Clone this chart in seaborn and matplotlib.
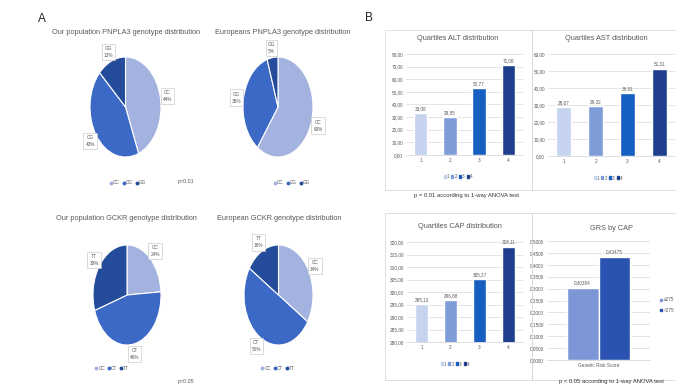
import matplotlib
matplotlib.use("Agg")
import matplotlib.pyplot as plt
import numpy as np
import pandas as pd
import seaborn as sns
from matplotlib.patches import Patch, Rectangle
from matplotlib.lines import Line2D
from matplotlib.ticker import FuncFormatter, MultipleLocator

# ---- data ----
pnpla3_genotypes = ["CC", "CG", "GG"]
pnpla3_ours = [44, 43, 13]
pnpla3_europe = [60, 35, 5]
gckr_genotypes = ["CC", "CT", "TT"]
gckr_ours = [24, 46, 30]
gckr_europe = [34, 50, 16]

quartiles = ["1", "2", "3", "4"]
alt_means = [33.08, 29.85, 52.77, 71.08]
ast_means = [28.67, 29.32, 36.91, 51.31]
cap_means = [295.13, 296.88, 305.27, 318.11]
grs_groups = ["≤275", ">275"]
grs_means = [0.30364, 0.43475]

# ---- style ----
sns.set_theme(style="white")
plt.rcParams["font.family"] = ["Liberation Sans Narrow", "Liberation Sans", "DejaVu Sans"]

W, H = 676, 384
fig = plt.figure(figsize=(W / 100, H / 100), dpi=100)
fig.patch.set_facecolor("white")

GRAY = "#595959"
GRID = "#d9d9d9"
pie_colors = ["#a3b2de", "#3c68c6", "#244c9b"]
quartile_colors = ["#c6d3ee", "#7e9dd8", "#165ec0", "#1f3f8e"]
grs_colors = ["#7d97d6", "#2a52b1"]


def px_rect(x0, y0, x1, y1):
    return [x0 / W, 1 - y1 / H, (x1 - x0) / W, (y1 - y0) / H]


def fxy(x, y):
    return x / W, 1 - y / H


def comma(v, nd):
    return f"{v:.{nd}f}".replace(".", ",")


def draw_pie(box, values, genotypes, title, title_xy, legend_xy):
    ax = fig.add_axes(px_rect(*box))
    labels = [f"{g}\n{v}%" for g, v in zip(genotypes, values)]
    ax.pie(values, labels=labels, colors=pie_colors, startangle=90,
           counterclock=False, labeldistance=1.2,
           wedgeprops=dict(edgecolor="white", linewidth=0.8),
           textprops=dict(fontsize=3.4, color=GRAY, ha="center", va="center",
                          linespacing=1.5,
                          bbox=dict(boxstyle="square,pad=0.45", fc="white",
                                    ec="#bfbfbf", lw=0.4)))
    ax.set_aspect("auto")
    ax.set_xlim(-1, 1)
    ax.set_ylim(-1, 1)
    fig.text(*fxy(*title_xy), title, ha="center", va="center",
             fontsize=5.3, color=GRAY)
    handles = [Line2D([], [], ls="none", marker="o", ms=1.8, color=c, label=g)
               for c, g in zip(pie_colors, genotypes)]
    fig.legend(handles=handles, loc="center", bbox_to_anchor=fxy(*legend_xy),
               ncol=3, frameon=False, fontsize=3.3, handlelength=0.5,
               handletextpad=0.2, columnspacing=0.6, labelcolor=GRAY)


def style_bar_axes(ax):
    ax.set_xlabel("")
    ax.set_ylabel("")
    ax.yaxis.grid(True, color=GRID, lw=0.5)
    ax.set_axisbelow(True)
    for s in ["left", "right", "top"]:
        ax.spines[s].set_visible(False)
    ax.spines["bottom"].set_color(GRID)
    ax.spines["bottom"].set_linewidth(0.6)
    ax.tick_params(axis="both", length=0, labelsize=3.4, labelcolor=GRAY, pad=2)
    ax.set_facecolor("none")


def draw_quartiles(box, values, title, ylim, step, title_xy, legend_xy):
    ax = fig.add_axes(px_rect(*box))
    df = pd.DataFrame({"Quartile": quartiles, "Value": values})
    sns.barplot(data=df, x="Quartile", y="Value", hue="Quartile",
                palette=quartile_colors, saturation=1, width=0.47,
                legend=False, ax=ax)
    ax.set_ylim(*ylim)
    ax.yaxis.set_major_locator(MultipleLocator(step))
    ax.yaxis.set_major_formatter(FuncFormatter(lambda v, _: comma(v, 2)))
    off = (ylim[1] - ylim[0]) * 0.02
    for i, v in enumerate(values):
        ax.text(i, v + off, comma(v, 2), ha="center", va="bottom",
                fontsize=3.3, color=GRAY)
    style_bar_axes(ax)
    fig.text(*fxy(*title_xy), title, ha="center", va="center",
             fontsize=5.3, color=GRAY)
    handles = [Patch(color=c, label=q) for c, q in zip(quartile_colors, quartiles)]
    fig.legend(handles=handles, loc="center", bbox_to_anchor=fxy(*legend_xy),
               ncol=4, frameon=False, fontsize=3.3, handlelength=0.5,
               handleheight=0.6, handletextpad=0.2, columnspacing=0.4,
               labelcolor=GRAY)
    return ax


# ---- panel A: genotype pies ----
fig.text(*fxy(42, 19), "A", fontsize=8.5, ha="center", va="center", color="#222222")
draw_pie((90, 57, 161, 157), pnpla3_ours, pnpla3_genotypes,
         "Our population PNPLA3 genotype distribution", (126, 32), (128, 183))
draw_pie((243, 57, 313, 157), pnpla3_europe, pnpla3_genotypes,
         "Europeans PNPLA3 genotype distribution", (283, 32), (292, 183))
fig.text(*fxy(186, 181), "p<0.01", fontsize=3.8, ha="center", va="center", color=GRAY)

draw_pie((93, 245, 161, 345), gckr_ours, gckr_genotypes,
         "Our population GCKR genotype distribution", (126, 219), (112, 368))
draw_pie((244, 245, 313, 345), gckr_europe, gckr_genotypes,
         "European GCKR genotype distribution", (279, 219), (278, 368))
fig.text(*fxy(186, 381), "p<0.05", fontsize=3.8, ha="center", va="center", color=GRAY)

# ---- panel B: biochemical quartiles ----
fig.text(*fxy(369, 18), "B", fontsize=8.5, ha="center", va="center", color="#222222")
for box in [(385, 30, 532, 190), (532, 30, 690, 190),
            (385, 213, 532, 380), (532, 213, 690, 380)]:
    x0, y0, x1, y1 = box
    fig.patches.append(Rectangle(fxy(x0, y1), (x1 - x0) / W, (y1 - y0) / H,
                                 transform=fig.transFigure, fill=False,
                                 ec=GRID, lw=0.6))

draw_quartiles((406, 54, 523, 155), alt_means, "Quartiles ALT distribution",
               (0, 80), 10, (458, 39), (458, 177))
draw_quartiles((548, 54, 675, 156), ast_means, "Quartiles AST distribution",
               (0, 60), 10, (606, 39), (608, 178))
fig.text(*fxy(466, 196), "p = 0.01 according to 1-way ANOVA test",
         fontsize=4.2, ha="center", va="center", color="#333333")

draw_quartiles((407, 242, 523, 342), cap_means, "Quartiles CAP distribution",
               (280, 320), 5, (460, 227), (455, 364))

# GRS by CAP group
ax = fig.add_axes(px_rect(547, 241, 650, 360))
df = pd.DataFrame({"Score": ["Genetic Risk Score"] * 2, "CAP": grs_groups,
                   "Value": grs_means})
sns.barplot(data=df, x="Score", y="Value", hue="CAP", palette=grs_colors,
            saturation=1, width=0.62, ax=ax)
ax.set_ylim(0, 0.5)
ax.yaxis.set_major_locator(MultipleLocator(0.05))
ax.yaxis.set_major_formatter(FuncFormatter(lambda v, _: comma(v, 4)))
for p, v in zip(ax.patches, grs_means):
    ax.text(p.get_x() + p.get_width() / 2, v + 0.01, comma(v, 5),
            ha="center", va="bottom", fontsize=3.3, color=GRAY)
style_bar_axes(ax)
ax.legend_.remove()
handles = [Line2D([], [], ls="none", marker="s", ms=1.5, color=c, label=g)
           for c, g in zip(grs_colors, grs_groups)]
fig.legend(handles=handles, loc="center", bbox_to_anchor=fxy(667, 305),
           ncol=1, frameon=False, fontsize=3.3, handlelength=0.5,
           handletextpad=0.3, labelspacing=1.2, labelcolor=GRAY)
fig.text(*fxy(611, 228), "GRS by CAP", fontsize=5.3, ha="center", va="center", color=GRAY)
fig.text(*fxy(611, 381), "p < 0.05 according to 1-way ANOVA test",
         fontsize=4.2, ha="center", va="center", color="#333333")

fig.savefig("out.png", dpi=100, facecolor="white")
